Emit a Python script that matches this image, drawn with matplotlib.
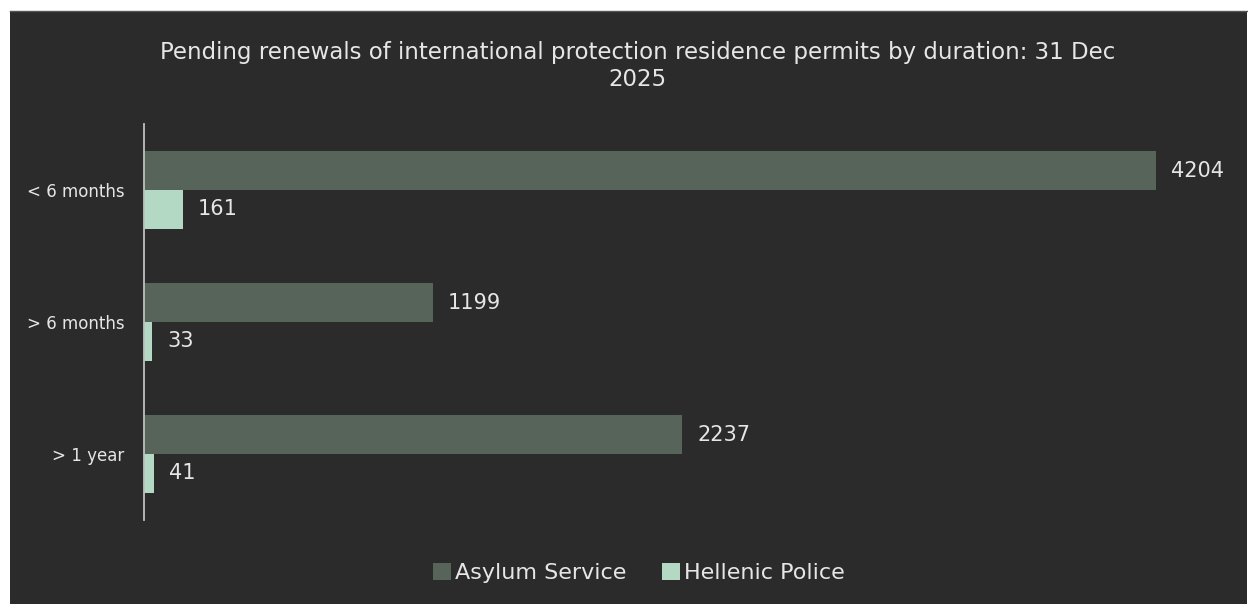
import matplotlib
matplotlib.use("Agg")
import matplotlib.pyplot as plt
import numpy as np
from matplotlib.patches import Rectangle

categories = ["< 6 months", "> 6 months", "> 1 year"]
asylum_service = [4204, 1199, 2237]
hellenic_police = [161, 33, 41]
series_names = ["Asylum Service", "Hellenic Police"]
title = "Pending renewals of international protection residence permits by duration: 31 Dec\n2025"

BG = "#2b2b2b"
C_ASY = "#56645a"
C_POL = "#b3d9c5"
TXT = "#e6e6e6"

plt.rcParams["font.family"] = ["DejaVu Sans"]

fig = plt.figure(figsize=(12.48, 6.04), dpi=100, facecolor="white")
fig.patches.append(Rectangle((10/1248, 0), (1247-10)/1248, (604-11)/604,
                             transform=fig.transFigure, facecolor=BG,
                             edgecolor="none", zorder=-10))
fig.lines.append(plt.Line2D([10/1248, 1247/1248], [(604-11)/604]*2,
                            transform=fig.transFigure, color="#555555", lw=1))

ax = fig.add_axes([144/1248, (604-520)/604, (1227-144)/1248, (520-124)/604])
ax.set_facecolor("none")

y = np.arange(len(categories))
h = 0.295
b1 = ax.barh(y - h/2, asylum_service, height=h, color=C_ASY, label=series_names[0])
b2 = ax.barh(y + h/2, hellenic_police, height=h, color=C_POL, label=series_names[1])
ax.bar_label(b1, padding=11, color=TXT, fontsize=15)
ax.bar_label(b2, padding=11, color=TXT, fontsize=15)

ax.set_xlim(0, 4500)
ax.set_ylim(2.5, -0.5)
ax.set_yticks(y)
ax.set_yticklabels(categories, color=TXT, fontsize=12)
ax.tick_params(axis="y", length=0, pad=14)
ax.set_xticks([])
for s in ["top", "right", "bottom"]:
    ax.spines[s].set_visible(False)
ax.spines["left"].set_color("#bfbfbf")
ax.spines["left"].set_linewidth(1.3)

fig.text(0.511, (604-66)/604, title, ha="center", va="center", color=TXT,
         fontsize=16.5, linespacing=1.2)

leg = fig.legend(handles=[b1, b2], loc="center", bbox_to_anchor=(0.512, (604-573)/604),
                 ncol=2, frameon=False, fontsize=16, labelcolor=TXT,
                 handlelength=0.8, handleheight=0.8, handletextpad=0.2, columnspacing=1.6)

fig.savefig("out.png", dpi=100, facecolor="white")
